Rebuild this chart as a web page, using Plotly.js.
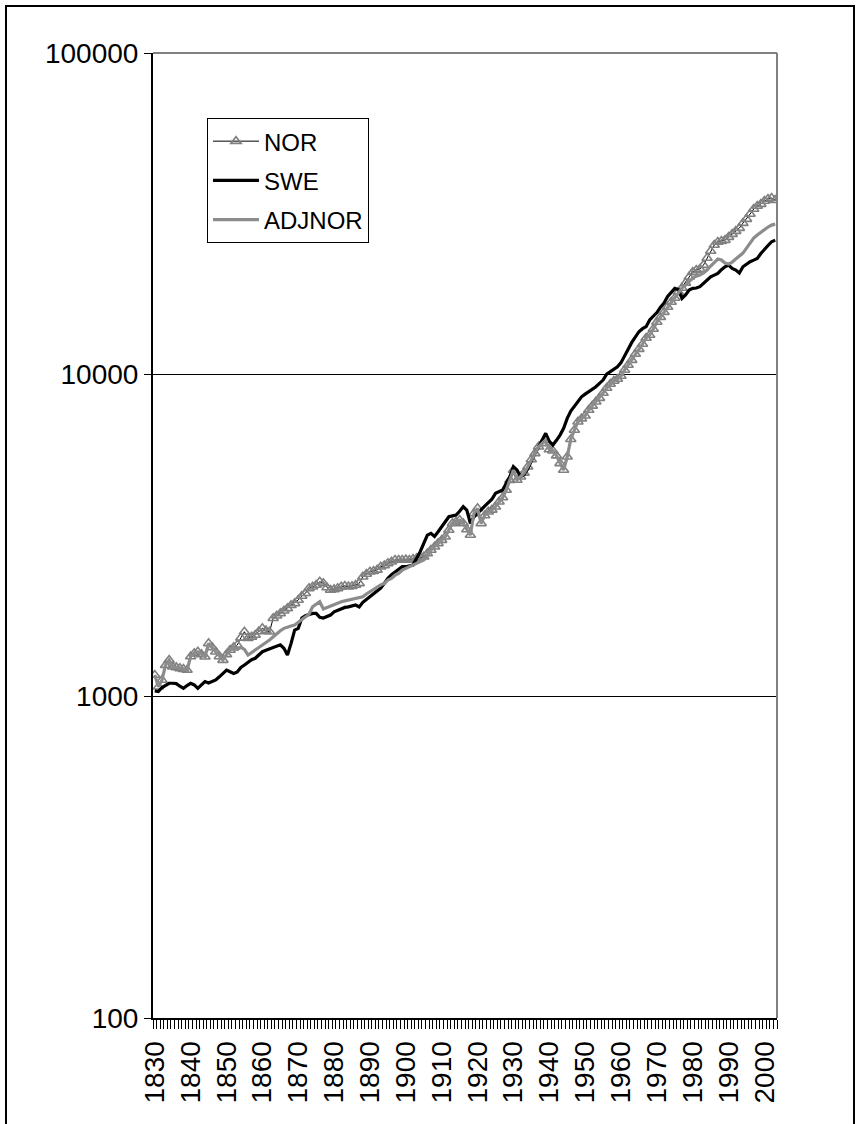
<!DOCTYPE html>
<html>
<head>
<meta charset="utf-8">
<script src="https://cdn.plot.ly/plotly-3.0.1.min.js"></script>
<style>
  html, body { margin: 0; padding: 0; background: #fff; }
  #chart { width: 860px; height: 1124px; }
  #frame { position: absolute; left: 5px; top: 5px; width: 846px; height: 1200px;
           border: 2px solid #000; pointer-events: none; }
</style>
</head>
<body>
<div id="chart"></div>
<div id="frame"></div>
<script>
// Years 1830 .. 2003 (category index)
const firstYear = 1830;
const lastYear = 2003;
const years = [];
for (let y = firstYear; y <= lastYear; y++) years.push(y);

// NOR
const NOR = [
  1165,1071,1124,1250,1296,1236,1230,1222,1215,1207,
  1330,1360,1376,1350,1328,1461,1420,1376,1330,1296,
  1350,1393,1420,1444,1520,1588,1515,1530,1551,1590,
  1627,1600,1588,1748,1780,1811,1845,1877,1920,1946,
  1993,2050,2091,2166,2190,2218,2271,2245,2180,2140,
  2150,2166,2190,2202,2193,2200,2218,2245,2354,2400,
  2440,2450,2472,2529,2550,2591,2620,2653,2653,2653,
  2660,2653,2670,2685,2700,2716,2780,2850,2917,2990,
  3060,3134,3290,3450,3490,3532,3450,3300,3172,3706,
  3840,3450,3650,3749,3800,3885,4027,4150,4378,4700,
  5052,4703,4815,4950,5172,5450,5691,5968,6114,6263,
  5855,5800,5600,5300,5052,5556,6300,6726,7140,7300,
  7450,7762,8000,8237,8457,8766,9087,9350,9553,9690,
  9901,10335,10711,11100,11590,12010,12450,13000,13280,13870,
  14580,15100,15650,16230,16820,17310,18060,18590,19270,20120,
  20840,21140,21300,21910,23040,24230,25290,25840,26020,26200,
  26770,27350,27950,28550,29590,30450,31570,32720,33430,33910,
  34650,35150,35400,34890
];

// SWE
const SWE = [
  1040,1035,1065,1084,1098,1098,1095,1075,1059,1080,
  1098,1085,1059,1085,1111,1100,1115,1124,1150,1180,
  1207,1192,1178,1190,1230,1251,1280,1300,1313,1345,
  1376,1390,1405,1420,1427,1446,1411,1344,1461,1607,
  1626,1751,1780,1800,1811,1811,1760,1751,1770,1789,
  1832,1850,1877,1890,1897,1910,1922,1897,1960,2000,
  2040,2090,2130,2170,2245,2330,2390,2440,2490,2529,
  2529,2545,2560,2685,2815,2989,3172,3211,3140,3250,
  3368,3480,3616,3640,3660,3760,3885,3790,3449,3616,
  3700,3790,3900,4000,4100,4276,4330,4380,4600,4816,
  5173,5050,4816,4900,5100,5400,5691,5950,6263,6570,
  6200,6042,6250,6490,6810,7313,7706,8000,8300,8535,
  8700,8850,9000,9170,9400,9620,10040,10210,10400,10580,
  10900,11500,12000,12600,13100,13600,13900,14100,14800,15200,
  15600,16200,16700,17500,18100,18550,18400,17270,17700,18320,
  18550,18600,18770,19220,19700,20150,20400,20650,21200,21650,
  21910,21400,21150,20700,21650,22100,22440,22700,22980,23800,
  24400,25200,25900,26200
];

// ADJNOR
const ADJNOR = [
  1165,1071,1124,1250,1296,1236,1230,1222,1215,1207,
  1330,1360,1376,1350,1328,1461,1420,1376,1330,1296,
  1350,1393,1420,1400,1420,1400,1344,1370,1393,1420,
  1444,1470,1496,1530,1570,1600,1627,1646,1655,1665,
  1700,1730,1768,1800,1899,1930,1969,1870,1890,1900,
  1930,1950,1969,1980,1993,2000,2017,2030,2040,2080,
  2114,2150,2191,2220,2245,2300,2327,2380,2412,2470,
  2500,2530,2560,2600,2620,2653,2740,2850,2917,2990,
  3060,3134,3290,3450,3490,3532,3450,3300,3172,3706,
  3840,3450,3650,3749,3800,3885,4027,4150,4378,4700,
  5052,4703,4815,4950,5172,5450,5691,5968,6114,6263,
  5855,5800,5600,5300,5052,5556,6300,6726,7140,7300,
  7450,7762,8000,8237,8457,8766,9087,9350,9553,9690,
  9901,10335,10711,11100,11590,12010,12450,13000,13280,13870,
  14580,15100,15650,16230,16820,17310,18060,18590,18990,19540,
  19970,20250,20400,20700,21140,21760,22390,22880,22720,22230,
  22070,22390,22880,23380,23880,24750,25650,26580,27160,27750,
  28350,28770,29170,29380
];

const yTickVals = [100, 1000, 10000, 100000];
const yTickText = ['100', '1000', '10000', '100000'];

const FONT = 'Arial, "Liberation Sans", sans-serif';

const traces = [
  {
    x: years, y: NOR, name: 'NOR', type: 'scatter', mode: 'lines+markers',
    legendgroup: 'a',
    line: { color: '#000000', width: 1 },
    marker: { symbol: 'triangle-up-open', size: 9, color: '#808080', line: { color: '#808080', width: 1.6 } }
  },
  {
    x: years, y: SWE, name: 'SWE', type: 'scatter', mode: 'lines',
    legendgroup: 'b',
    line: { color: '#000000', width: 3.2 }
  },
  {
    x: years, y: ADJNOR, name: 'ADJNOR', type: 'scatter', mode: 'lines',
    legendgroup: 'c',
    line: { color: '#8c8c8c', width: 3.2 }
  }
];

const layout = {
  width: 860, height: 1124,
  margin: { l: 153, r: 83, t: 53, b: 106 },
  paper_bgcolor: '#ffffff', plot_bgcolor: '#ffffff',
  font: { family: FONT, color: '#000' },
  showlegend: true,
  legend: {
    x: 0.0865, y: 0.9326, xanchor: 'left', yanchor: 'top',
    bgcolor: '#ffffff', bordercolor: '#000000', borderwidth: 1,
    font: { family: FONT, size: 24, color: '#000' },
    itemwidth: 46,
    tracegroupgap: 5
  },
  xaxis: {
    type: 'linear', range: [firstYear - 0.5, lastYear + 0.5],
    tick0: 1830, dtick: 10, ticks: '', tickangle: -90,
    ticklabelstandoff: 10,
    tickfont: { family: FONT, size: 28, color: '#000' },
    showgrid: false, zeroline: false,
    showline: true, linecolor: '#000', linewidth: 2,
    minor: { ticks: 'outside', tick0: firstYear - 0.5, dtick: 1, ticklen: 9, tickwidth: 1, tickcolor: '#000', showgrid: false }
  },
  yaxis: {
    type: 'log', range: [2, 5],
    tickvals: yTickVals, ticktext: yTickText,
    ticks: 'outside', ticklen: 7, tickcolor: '#000', tickwidth: 1,
    tickfont: { family: FONT, size: 28, color: '#000' },
    showgrid: true, gridcolor: '#000', gridwidth: 1,
    zeroline: false, showline: true, linecolor: '#000', linewidth: 2
  },
  shapes: [
    { type: 'line', xref: 'paper', yref: 'paper', x0: 0, x1: 1, y0: 1, y1: 1, line: { color: '#808080', width: 2 } },
    { type: 'line', xref: 'paper', yref: 'paper', x0: 1, x1: 1, y0: 0, y1: 1, line: { color: '#808080', width: 2 } }
  ]
};

Plotly.newPlot('chart', traces, layout, { displayModeBar: false, staticPlot: true });
</script>
</body>
</html>
